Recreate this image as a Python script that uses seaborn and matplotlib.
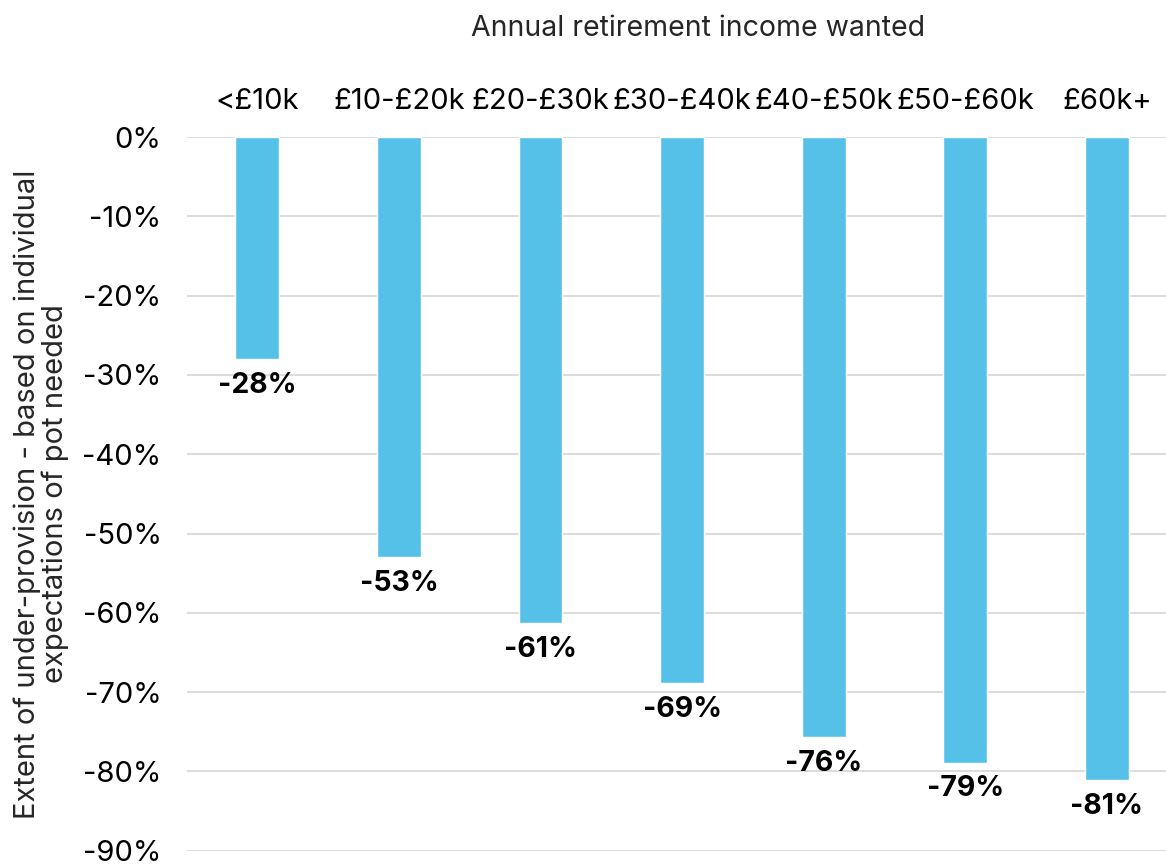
import pandas as pd
import seaborn as sns
import matplotlib.pyplot as plt
from matplotlib.ticker import PercentFormatter

# --- DATA ---
income_bands = ["<£10k", "£10-£20k", "£20-£30k", "£30-£40k", "£40-£50k", "£50-£60k", "£60k+"]
under_provision = [-28.0, -53.0, -61.3, -68.9, -75.7, -78.9, -81.1]
value_labels = ["-28%", "-53%", "-61%", "-69%", "-76%", "-79%", "-81%"]

df = pd.DataFrame({"band": income_bands, "gap": under_provision})

# --- THEME ---
sns.set_theme(style="white")
plt.rcParams["font.family"] = ["Inter", "DejaVu Sans"]
plt.rcParams["axes.unicode_minus"] = False

bar_color = "#56C1E8"
grid_color = "#D9D9D9"

fig = plt.figure(figsize=(11.66, 8.65), dpi=100)
ax = fig.add_axes([0.160, 0.0165, 0.850, 0.8251])

sns.barplot(data=df, x="band", y="gap", order=income_bands,
            color=bar_color, saturation=1, width=0.31, ax=ax, zorder=3)

ax.set_ylim(-90, 0)
ax.set_xlim(-0.5, 6.5)
ax.set_yticks(range(-90, 1, 10))
ax.yaxis.set_major_formatter(PercentFormatter(decimals=0))
ax.grid(axis="y", color=grid_color, linewidth=1.3, zorder=0)
ax.set_axisbelow(True)
for s in ax.spines.values():
    s.set_visible(False)

# category labels and axis title on top
ax.xaxis.tick_top()
ax.xaxis.set_label_position("top")
ax.tick_params(axis="x", length=0, pad=16, labelsize=21, colors="black")
ax.tick_params(axis="y", length=0, pad=18, labelsize=21, colors="black")
ax.set_xlabel("Annual retirement income wanted", fontsize=20.5)
ax.xaxis.set_label_coords(0.516, 1.141)
ax.set_ylabel("Extent of under-provision - based on individual\nexpectations of pot needed",
              fontsize=21, labelpad=10, linespacing=1.0)

# value labels under each bar
for i, (v, lab) in enumerate(zip(under_provision, value_labels)):
    ax.annotate(lab, (i, v), xytext=(0, -9), textcoords="offset points",
                ha="center", va="top", fontsize=20.5, fontweight="bold", color="black")

fig.savefig("out.png", dpi=100)
